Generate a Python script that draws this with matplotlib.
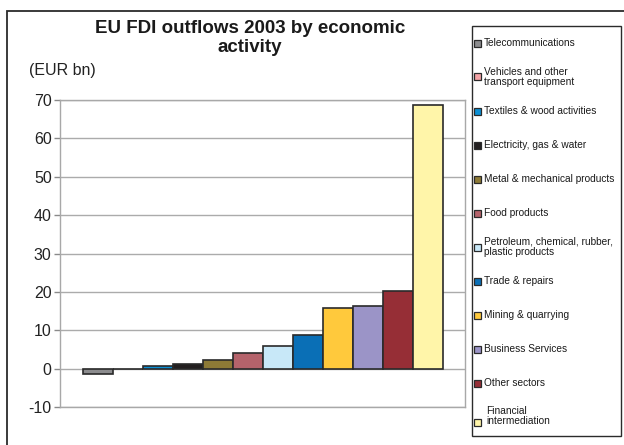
import matplotlib
matplotlib.use("Agg")
import matplotlib.pyplot as plt
from matplotlib.patches import Rectangle

plt.rcParams['font.family'] = ['Liberation Sans', 'DejaVu Sans']

# Sectors, ordered from smallest to largest outflow
sectors = [
    "Telecommunications",
    "Vehicles and other\ntransport equipment",
    "Textiles & wood activities",
    "Electricity, gas & water",
    "Metal & mechanical products",
    "Food products",
    "Petroleum, chemical, rubber,\nplastic products",
    "Trade & repairs",
    "Mining & quarrying",
    "Business Services",
    "Other sectors",
    "Financial\nintermediation",
]
outflows = [-1.3, -0.2, 0.8, 1.1, 2.2, 4.2, 5.9, 8.7, 15.8, 16.2, 20.3, 68.6]
colors = ["#8c8c8e", "#f4a3a6", "#0b8fd4", "#231f20", "#8d7a36", "#b5636b",
          "#c8e8f8", "#0a6fb6", "#ffc93c", "#9b94c7", "#962e36", "#fff5a9"]
y_ticks = [-10, 0, 10, 20, 30, 40, 50, 60, 70]

W, H = 624, 445
fig = plt.figure(figsize=(W / 100, H / 100), dpi=100)

# Outer frame (runs off the right and bottom edges)
fig.patches.append(Rectangle((7 / W, -0.05), 1.2, (H - 11) / H + 0.05,
                             transform=fig.transFigure, fill=False,
                             edgecolor="#2b2b2b", linewidth=1.3, zorder=0))

ax = fig.add_axes([60 / W, 38 / H, 405 / W, 307 / H])
x = list(range(len(outflows)))
ax.bar(x, outflows, width=1.0, color=colors, edgecolor="#2a2a2a",
       linewidth=1.2, zorder=3)
ax.set_xlim(-1.25, len(outflows) - 1 + 1.25)
ax.set_ylim(-10, 70)
ax.set_yticks(y_ticks)
ax.set_yticklabels([str(t) for t in y_ticks], fontsize=11.5, color="#222222")
ax.set_xticks([])
ax.yaxis.grid(True, color="#ababab", linewidth=1.0, zorder=0)
for s in ax.spines.values():
    s.set_color("#a8a8a8")
    s.set_linewidth(1.0)
ax.tick_params(axis="y", length=4, width=1.0, color="#8a8a8a", pad=2)

fig.text(250 / W, 1 - 38 / H, "EU FDI outflows 2003 by economic\nactivity",
         ha="center", va="center", fontsize=13.5, fontweight="bold",
         linespacing=1.12, color="#1a1a1a")
fig.text(29 / W, 1 - 70 / H, "(EUR bn)", ha="left", va="center",
         fontsize=11.5, color="#222222")

# Legend box with evenly spaced entries
fig.patches.append(Rectangle((472 / W, 1 - 436 / H), 149 / W, 410 / H,
                             transform=fig.transFigure, fill=False,
                             edgecolor="#2b2b2b", linewidth=1.0))
top, step = 43, 34.0
last = len(sectors) - 1
for i, (label, c) in enumerate(zip(sectors, colors)):
    yc = top + i * step
    # the final entry keeps its swatch beside the second text line
    sq_y = yc + 5 if i == last else yc
    tx_y = yc - 1 if i == last else yc
    tx_x = 486 if i == last else 484
    fig.patches.append(Rectangle((474 / W, 1 - (sq_y + 3.5) / H), 7 / W, 7 / H,
                                 transform=fig.transFigure, facecolor=c,
                                 edgecolor="#2a2a2a", linewidth=0.9))
    fig.text(tx_x / W, 1 - tx_y / H, label, ha="left", va="center",
             fontsize=7.3, color="#1a1a1a", linespacing=1.0)

fig.savefig("out.png", dpi=100)
